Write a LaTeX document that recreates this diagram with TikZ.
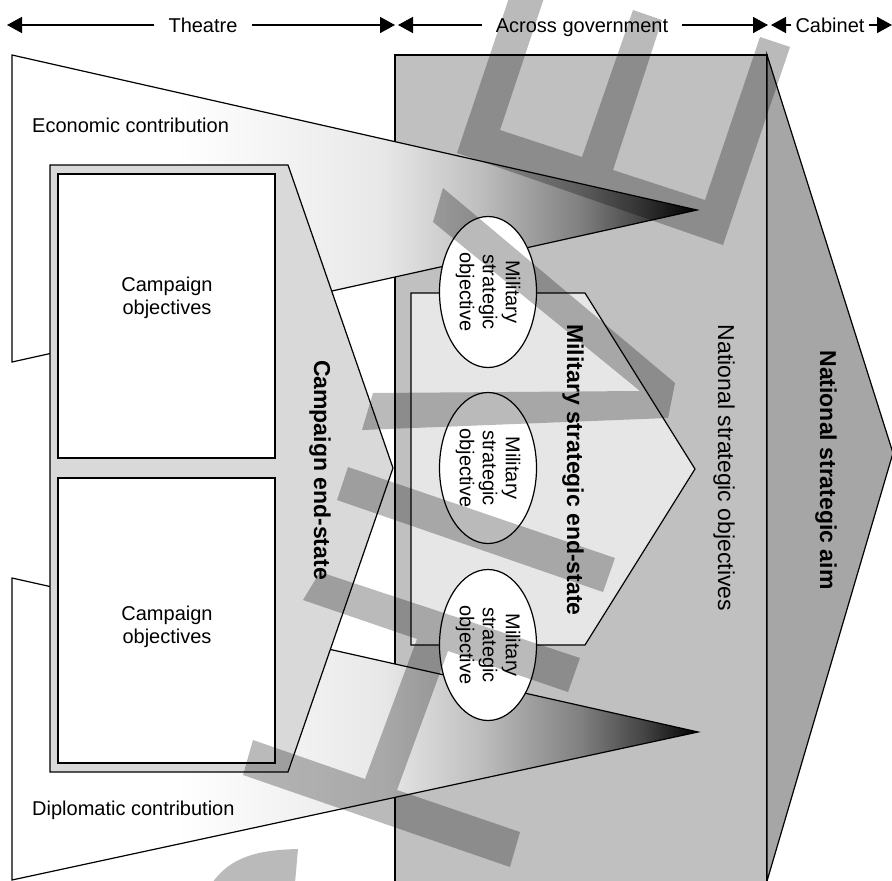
\documentclass[tikz,border=0pt]{standalone}
\usepackage{fontspec}
\setmainfont{Liberation Sans}
\usetikzlibrary{shapes.geometric,arrows.meta}

\definecolor{natgrey}{HTML}{C0C0C0}
\definecolor{aimgrey}{HTML}{A6A6A6}
\definecolor{campgrey}{HTML}{D9D9D9}
\definecolor{milgrey}{HTML}{E6E6E6}

% white on the left, black at the point
\pgfdeclarehorizontalshading{contribfade}{100bp}{color(0bp)=(white); color(37bp)=(white);
  color(52bp)=(black!9); color(59bp)=(black!25); color(66.5bp)=(black!50);
  color(71bp)=(black!73); color(75bp)=(black); color(100bp)=(black)}

\tikzset{
  outline/.style={draw=black,line width=1.2pt},
  boxline/.style={draw=black,line width=1.8pt},
  band/.style={fill=black,fill opacity=0.27},
  toplabel/.style={inner xsep=14pt,inner ysep=0pt,text height=14.4pt,text depth=0pt,
    font=\fontsize{20}{24}\selectfont},
  toparrow/.style={line width=1.6pt,-{Triangle[length=15pt,width=16pt]}},
  plainlabel/.style={inner sep=0pt,font=\fontsize{20}{24}\selectfont},
  objtext/.style={align=center,inner sep=0pt,font=\fontsize{20}{23}\selectfont},
  vlabel/.style={rotate=-90,inner sep=0pt,font=\bfseries\fontsize{23}{27}\selectfont},
  objellipse/.style={ellipse,draw=black,line width=1.2pt,fill=white,rotate=-90,
    minimum width=151pt,minimum height=97pt,inner sep=0pt,align=center,
    font=\fontsize{20}{23}\selectfont}
}

\begin{document}
\begin{tikzpicture}[x=1pt,y=-1pt]
	\useasboundingbox (0,0) rectangle (892,881);
	\clip (0,0) rectangle (892,881);
	
	% national strategic aim
	\filldraw[outline,fill=natgrey] (395,890) -- (395,55) -- (767,55) -- (767,890);
	\filldraw[outline,fill=aimgrey] (767,55) -- (893,453) -- (767,881) -- cycle;
	
	% contributions
	\shadedraw[shading=contribfade,outline] (12,55) -- (697,210) -- (12,362) -- cycle;
	\shadedraw[shading=contribfade,outline] (12,578) -- (698,732) -- (12,880) -- cycle;
	
	% campaign end-state
	\filldraw[outline,fill=campgrey] (50,165) -- (288,165) -- (393,468) -- (288,772) -- (50,772) -- cycle;
	\draw[boxline,fill=white] (58,174) rectangle (275,458);
	\draw[boxline,fill=white] (58,478) rectangle (275,763);
	
	% military strategic end-state
	\filldraw[outline,fill=milgrey] (411,293) -- (585,293) -- (695,469) -- (585,645) -- (411,645) -- cycle;
	
	%objectives
	\node[objellipse] (mso1) at (488,292) {Military\\strategic\\objective};
	\node[objellipse] (mso2) at (488,468) {Military\\strategic\\objective};
	\node[objellipse] (mso3) at (488,645) {Military\\strategic\\objective};
	\node[objtext] (cobj1) at (167,298) {Campaign\\objectives};
	\node[objtext] (cobj2) at (167,627) {Campaign\\objectives};
	
	\node[plainlabel,anchor=west] (econ) at (32,125) {Economic contribution};
	\node[plainlabel,anchor=west] (dipl) at (32,810) {Diplomatic contribution};
	
	\node[vlabel] (campend) at (320,470) {Campaign end-state};
	\node[vlabel] (milend) at (573,470) {Military strategic end-state};
	\node[vlabel,font=\fontsize{23}{27}\selectfont] (natobj) at (724,468) {National strategic objectives};
	\node[vlabel] (nataim) at (826,470) {National strategic aim};
	
	% levels
	\node[toplabel] (theatre) at (203,25) {Theatre};
	\node[toplabel] (across) at (582,25) {Across government};
	\node[toplabel,inner xsep=4pt] (cabinet) at (830,25) {Cabinet};
	\coordinate (w0) at (7,25);
	\coordinate (w1) at (395,25);
	\coordinate (w1b) at (398,25);
	\coordinate (w2) at (768,25);
	\coordinate (w2b) at (771,25);
	\coordinate (w3) at (892,25);
	\draw[toparrow] (theatre) -- (w0);
	\draw[toparrow] (theatre) -- (w1);
	\draw[toparrow] (across) -- (w1b);
	\draw[toparrow] (across) -- (w2);
	\draw[toparrow] (cabinet) -- (w2b);
	\draw[toparrow] (cabinet) -- (w3);
	
	% grey bands on top
	\fill[band] (457,153) -- (723,245) -- (790,47) -- (760,37) -- (705,200) -- (613,170)
	            -- (662,20) -- (633,10) -- (582,157) -- (500,130) -- (545,-5) -- (510,-5) -- cycle;
	\fill[band] (443,188) -- (675,383) -- (668,418) -- (362,430) -- (373,393) -- (640,391)
	            -- (433,222) -- cycle;
	\fill[band] (348,467) -- (615,558) -- (603,592) -- (337,500) -- cycle;
	\fill[band] (320,572) -- (580,658) -- (568,692) -- (448,651) -- (397,790) -- (520,832)
	            -- (510,867) -- (243,775) -- (253,740) -- (365,779) -- (417,639) -- (303,600) -- cycle;
	\fill[band] (212,883) .. controls (230,858) and (255,850) .. (298,849) -- (295,883) -- cycle;
\end{tikzpicture}
\end{document}
